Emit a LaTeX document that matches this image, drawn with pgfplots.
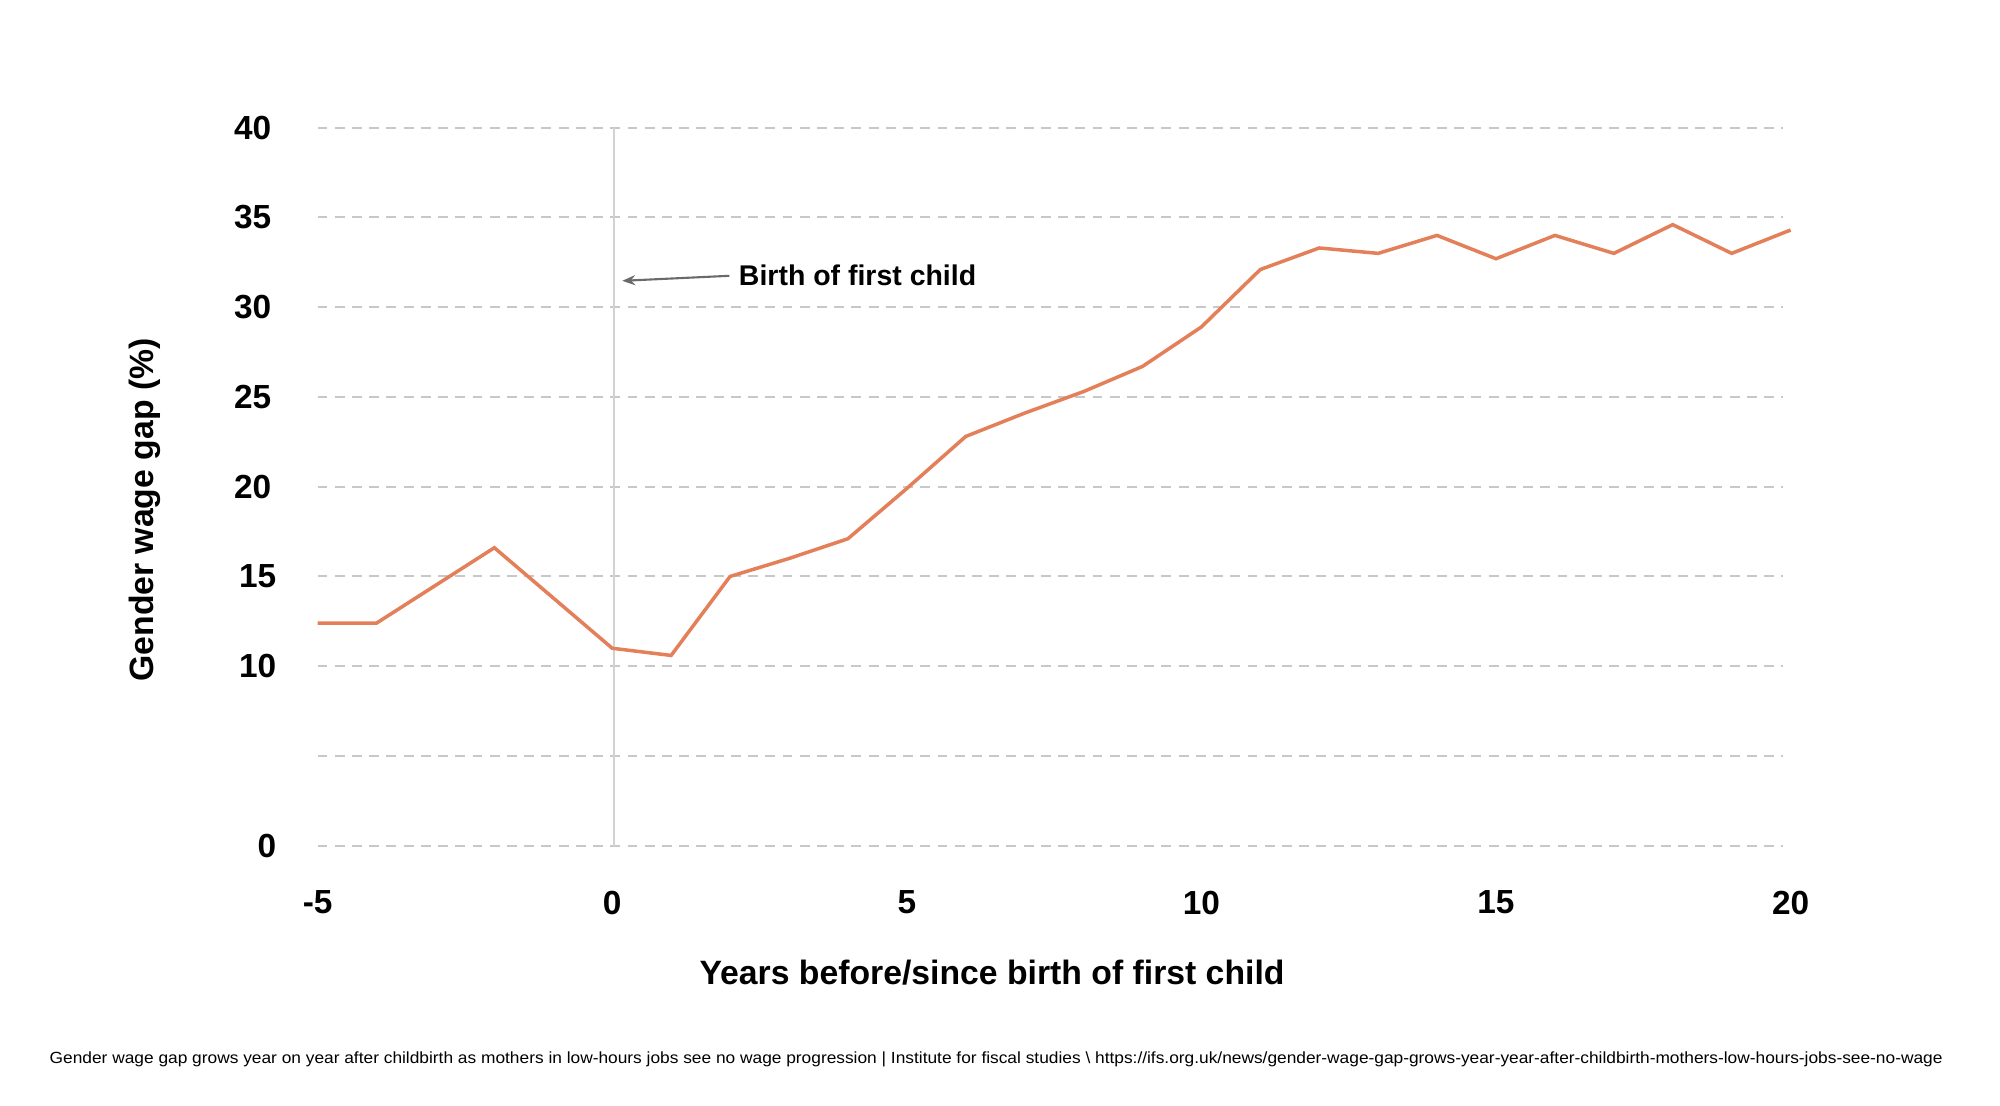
\documentclass[border=0pt]{standalone}
\usepackage{fontspec}
\setmainfont{Liberation Sans}
\newfontfamily\capfont{Liberation Sans}
\usepackage{graphicx}
\usepackage{pgfplots}
\pgfplotsset{compat=1.18}
\usetikzlibrary{arrows.meta}

\definecolor{wageorange}{HTML}{E3805A}
\definecolor{gridgray}{HTML}{C8C8C8}
\definecolor{zeroline}{HTML}{D2D2D2}
\definecolor{arrowgray}{HTML}{6A6A6A}

% gender wage gap (%) by years since birth of first child
\pgfplotstableread{
year gap
-5 12.4
-4 12.4
-3 14.5
-2 16.6
-1 13.8
0 11.0
1 10.6
2 15.0
3 16.0
4 17.1
5 19.9
6 22.8
7 24.1
8 25.3
9 26.7
10 28.9
11 32.1
12 33.3
13 33.0
14 34.0
15 32.7
16 34.0
17 33.0
18 34.6
19 33.0
20 34.3
}\gapdata

\begin{document}
\begin{tikzpicture}
\path[use as bounding box] (0,0) rectangle (20,11.05);

\begin{axis}[
  at={(3.176cm,2.593cm)}, anchor=south west,
  scale only axis,
  width=14.73cm, height=7.18cm,
  xmin=-5, xmax=20, ymin=0, ymax=40,
  clip=false,
  axis line style={draw=none},
  major tick length=0pt,
  xtick={-5,0,5,10,15,20},
  ytick={0,5,10,15,20,25,30,35,40},
  yticklabels={{0\kern-0.05cm},{},{10\kern-0.05cm},{15\kern-0.05cm},20,25,30,35,40},
  /pgf/number format/assume math mode=true,
  ticklabel style={font=\fontsize{9.5}{11}\selectfont\bfseries, inner sep=0pt},
  xticklabel style={anchor=north, yshift=-0.443cm},
  yticklabel style={anchor=east, xshift=-0.456cm},
]
% dashed horizontal grid, stopping just short of the right edge
\pgfplotsinvokeforeach{0,5,...,40}{
  \draw[gridgray, line width=0.55pt, dash pattern=on 2.8pt off 2.1pt]
    (axis cs:-5,#1) -- (axis cs:19.87,#1);
}
\draw[zeroline, line width=0.6pt] (axis cs:0.03,0) -- (axis cs:0.03,40);
\addplot[wageorange, line width=1pt, no markers] table[x=year, y=gap] {\gapdata};
\draw[arrowgray, line width=0.6pt, -{Stealth[length=0.13cm, width=0.1cm]}]
  (axis cs:1.99,31.75) -- (axis cs:0.17,31.47);
\node[anchor=west, inner sep=0pt, font=\fontsize{8.1}{10}\selectfont\bfseries]
  at (axis cs:2.14,31.78) {Birth of first child};
\end{axis}

\node[rotate=90, inner sep=0pt, font=\fontsize{9.6}{11}\selectfont\bfseries]
  at (1.45,5.95) {Gender wage gap (\%)};
\node[anchor=base, inner sep=0pt, font=\fontsize{9.6}{11}\selectfont\bfseries]
  at (9.92,1.21) {Years before/since birth of first child};
\node[anchor=base west, inner sep=0pt] at (0.49,0.42)
  {\resizebox{18.93cm}{\height}{\capfont\fontsize{4.6}{5.5}\selectfont Gender wage gap grows year on year after childbirth as mothers in low-hours jobs see no wage progression | Institute for fiscal studies \textbackslash{} https://ifs.org.uk/news/gender-wage-gap-grows-year-year-after-childbirth-mothers-low-hours-jobs-see-no-wage}};
\end{tikzpicture}
\end{document}
